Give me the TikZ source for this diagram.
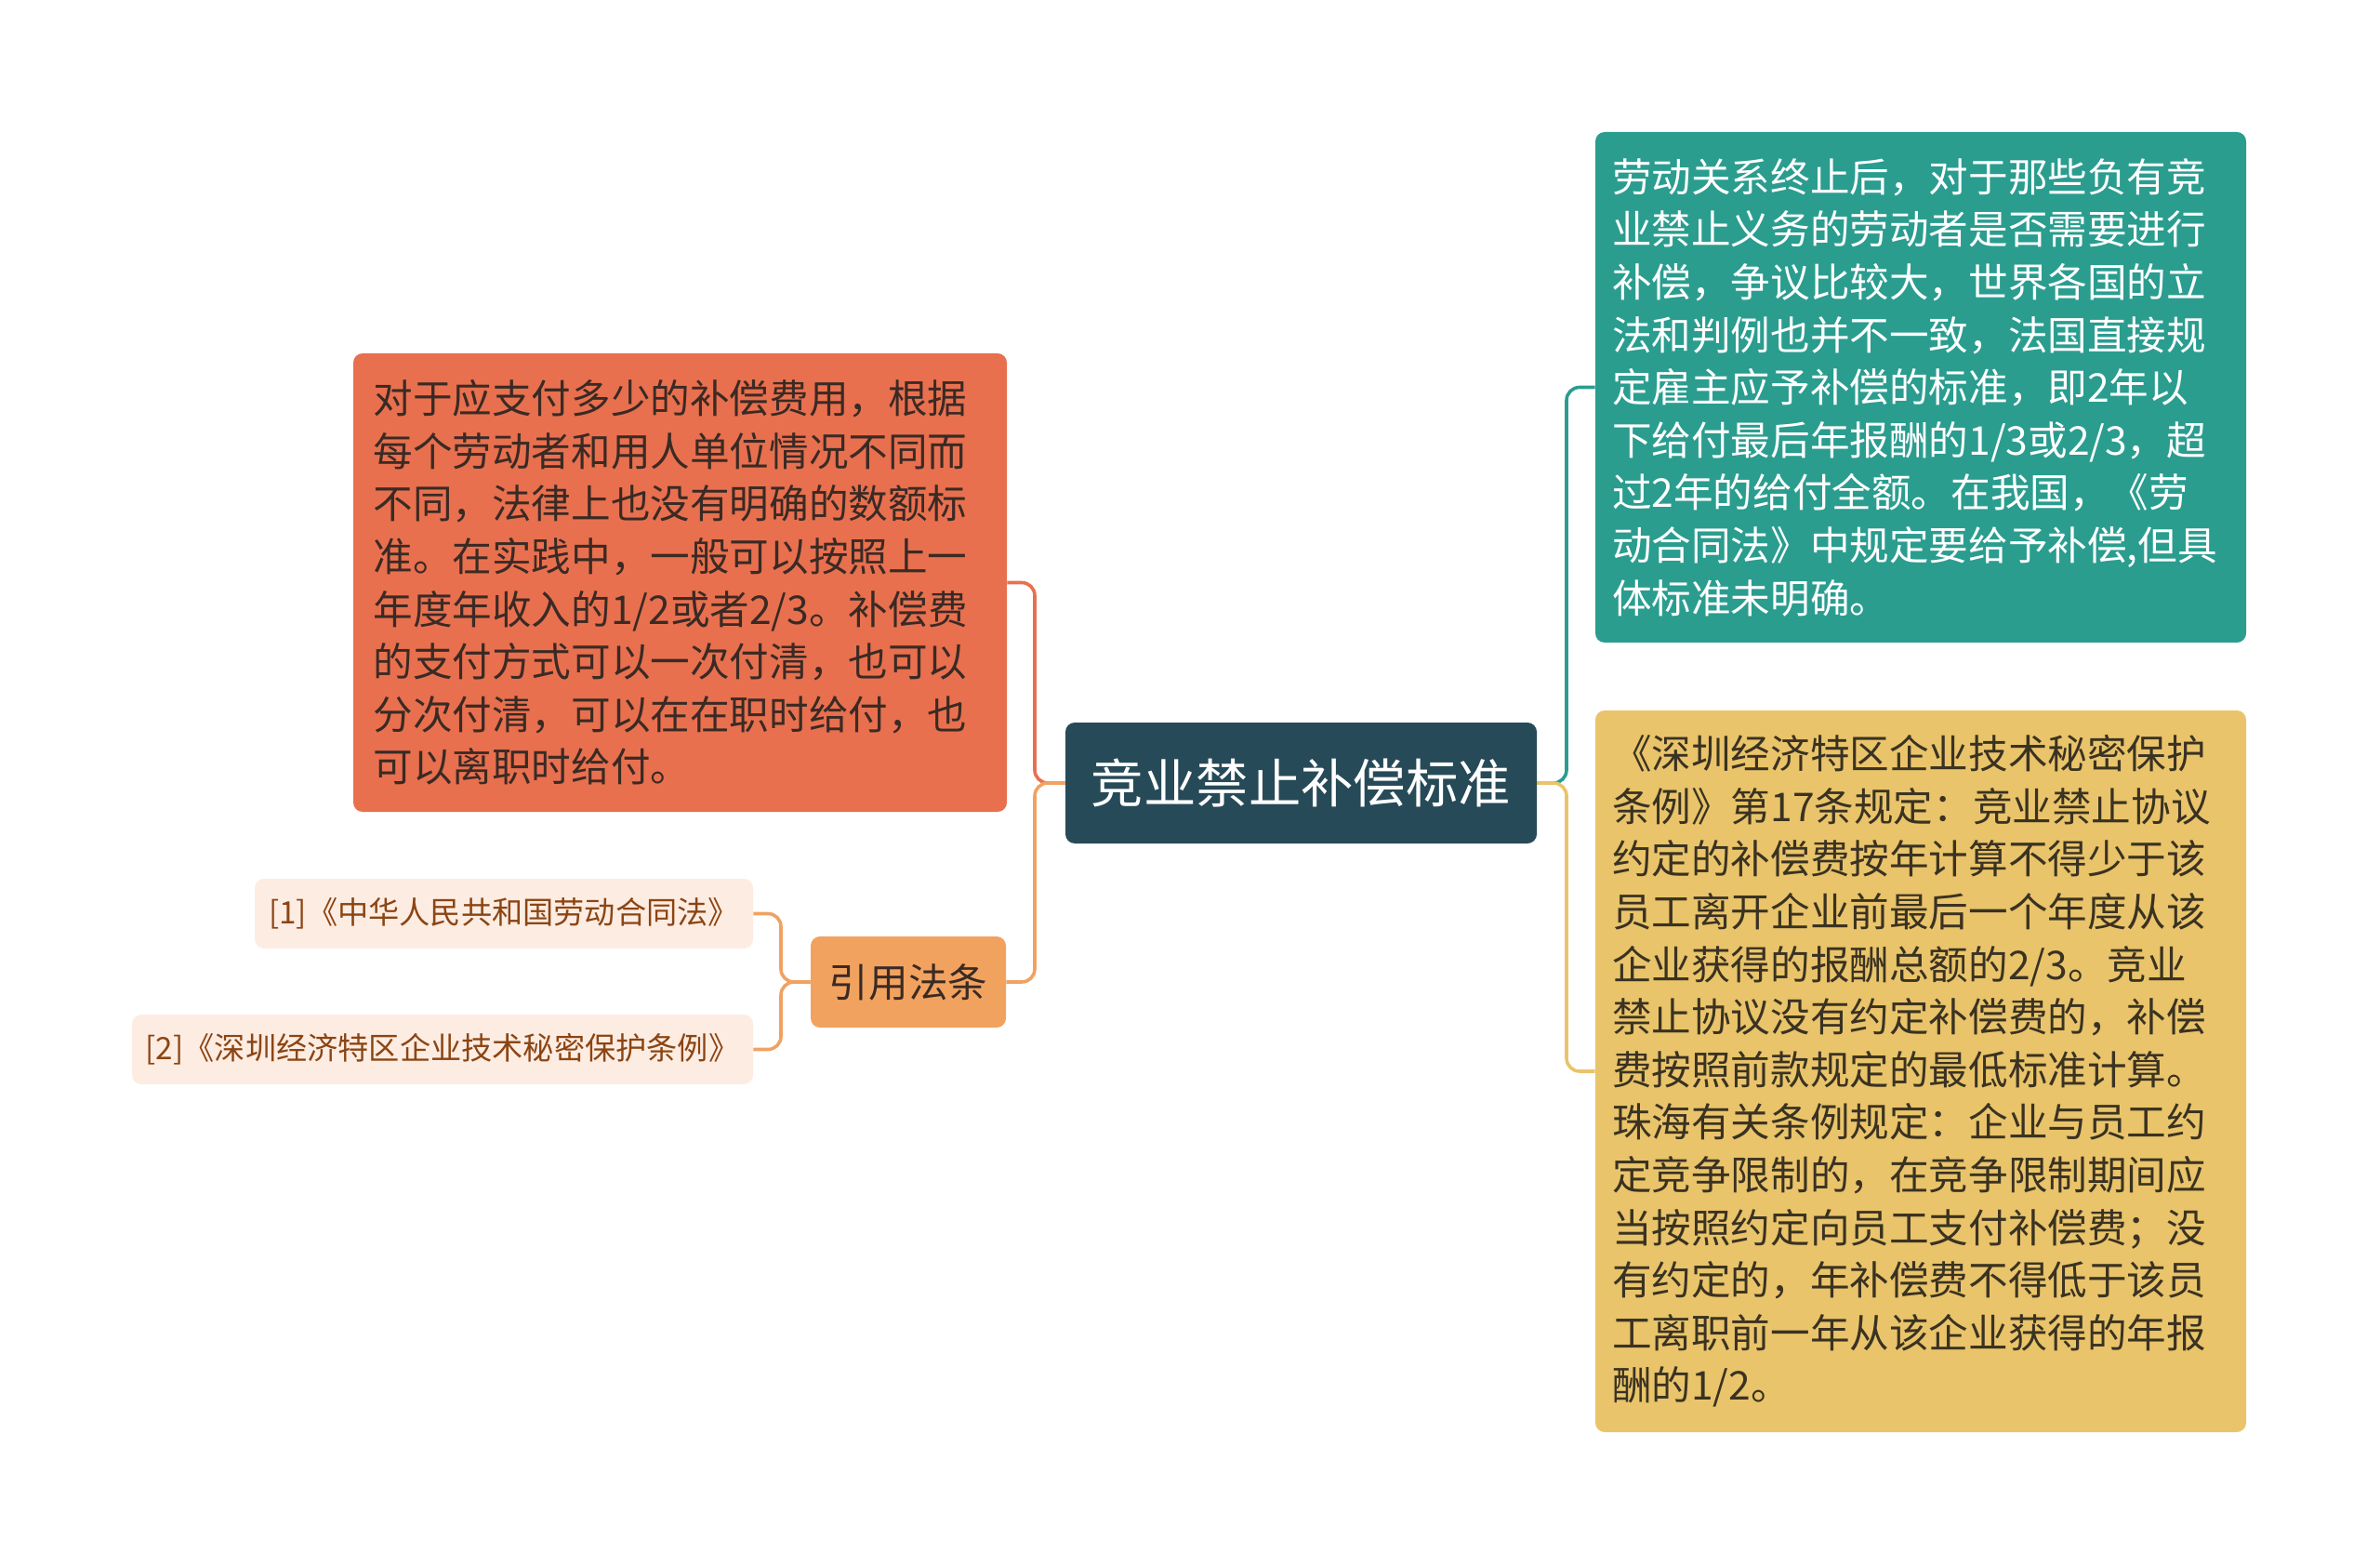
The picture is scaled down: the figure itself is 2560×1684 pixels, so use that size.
\documentclass[tikz,border=0pt]{standalone}
\usepackage{fontspec}
\setmainfont{Noto Sans CJK SC}
\definecolor{cCentral}{HTML}{274A58}
\definecolor{cOrange}{HTML}{E8704F}
\definecolor{cOrangeTxt}{HTML}{3A2A24}
\definecolor{cCite}{HTML}{F2A25F}
\definecolor{cCiteLine}{HTML}{F0A262}
\definecolor{cTeal}{HTML}{2A9D8F}
\definecolor{cYellow}{HTML}{E9C46A}
\definecolor{cYellowTxt}{HTML}{3A3222}
\definecolor{cLeaf}{HTML}{FDECE2}
\definecolor{cLeafTxt}{HTML}{8B4513}
\begin{document}
\begin{tikzpicture}[x=0.5pt,y=-0.5pt,
  box/.style={rounded corners=5pt, inner sep=0pt, align=left},
  bigtext/.style={font=\fontsize{21.3}{28.3}\selectfont},
  conn/.style={line width=1.8pt, rounded corners=7pt}]
\useasboundingbox (0,0) rectangle (2560,1684);

% nodes
\node[box, fill=cCentral, text=white, minimum width=253.5pt, minimum height=65pt,
  font=\fontsize{28.2}{34}\selectfont] (central) at (1399.5,842) {竞业禁止补偿标准};

\node[box, bigtext, fill=cOrange, text=cOrangeTxt, minimum width=351.5pt, minimum height=246.5pt,
  text width=330pt] (orange) at (731.5,626.5) {对于应支付多少的补偿费用，根据\\
每个劳动者和用人单位情况不同而\\
不同，法律上也没有明确的数额标\\
准。在实践中，一般可以按照上一\\
年度年收入的1/2或者2/3。补偿费\\
的支付方式可以一次付清，也可以\\
分次付清，可以在在职时给付，也\\
可以离职时给付。};

\node[box, fill=cCite, text=cOrangeTxt, minimum width=105pt, minimum height=49pt,
  font=\fontsize{21.3}{26}\selectfont] (cite) at (977,1056) {引用法条};

\node[box, fill=cLeaf, text=cLeafTxt, minimum width=268pt, minimum height=37.5pt,
  font=\fontsize{16.6}{20}\selectfont] (c1) at (542,982.5) {[1]《中华人民共和国劳动合同法》};

\node[box, fill=cLeaf, text=cLeafTxt, minimum width=334pt, minimum height=37.5pt,
  font=\fontsize{16.6}{20}\selectfont] (c2) at (476,1128.5) {[2]《深圳经济特区企业技术秘密保护条例》};

\node[box, bigtext, fill=cTeal, text=white, minimum width=350pt, minimum height=274.5pt,
  text width=332pt] (teal) at (2066,416.5) {劳动关系终止后，对于那些负有竞\\
业禁止义务的劳动者是否需要进行\\
补偿，争议比较大，世界各国的立\\
法和判例也并不一致，法国直接规\\
定雇主应予补偿的标准，即2年以\\
下给付最后年报酬的1/3或2/3，超\\
过2年的给付全额。在我国，《劳\\
动合同法》中规定要给予补偿,但具\\
体标准未明确。};

\node[box, bigtext, fill=cYellow, text=cYellowTxt, minimum width=350pt, minimum height=388pt,
  text width=332pt] (yellow) at (2066,1152) {《深圳经济特区企业技术秘密保护\\
条例》第17条规定：竞业禁止协议\\
约定的补偿费按年计算不得少于该\\
员工离开企业前最后一个年度从该\\
企业获得的报酬总额的2/3。竞业\\
禁止协议没有约定补偿费的，补偿\\
费按照前款规定的最低标准计算。\\
珠海有关条例规定：企业与员工约\\
定竞争限制的，在竞争限制期间应\\
当按照约定向员工支付补偿费；没\\
有约定的，年补偿费不得低于该员\\
工离职前一年从该企业获得的年报\\
酬的1/2。};

% junctions
\coordinate (jl) at (1113,842);
\coordinate (jr) at (1685,842);
\coordinate (jc) at (840,1056);

% connectors
\draw[conn, draw=cOrange] (central.west) -- (jl) |- (orange.east);
\draw[conn, draw=cCiteLine] (cite.east) -| (jl) -- (central.west);
\draw[conn, draw=cTeal] (central.east) -- (jr) |- (teal.west);
\draw[conn, draw=cYellow] (central.east) -- (jr) |- (yellow.west);
\draw[conn, draw=cCiteLine] (cite.west) -- (jc) |- (c1.east);
\draw[conn, draw=cCiteLine] (cite.west) -- (jc) |- (c2.east);
\end{tikzpicture}
\end{document}
